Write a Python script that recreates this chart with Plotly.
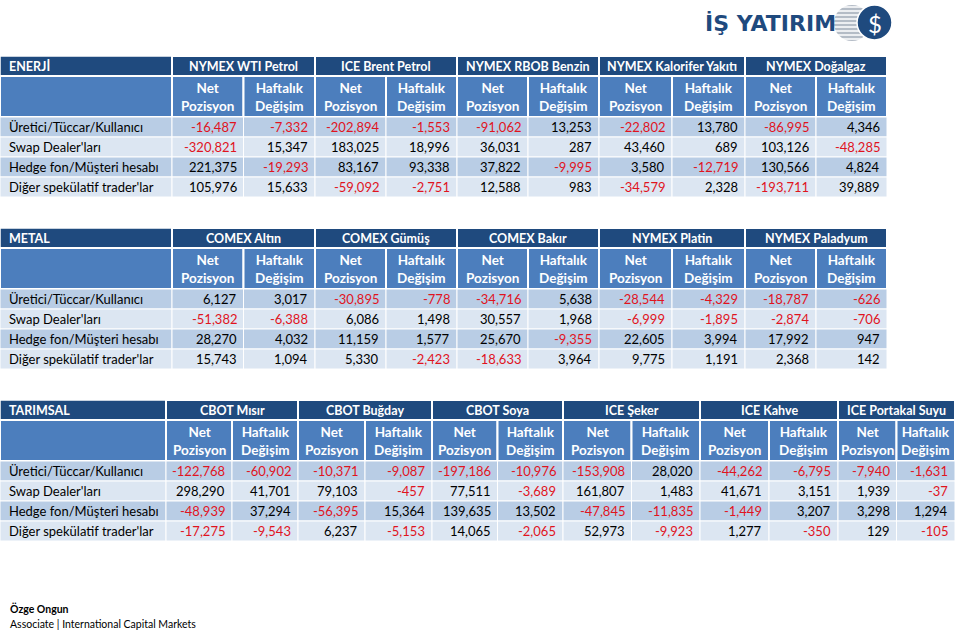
import plotly.graph_objects as go

# ---- data ----
katilimcilar = [
    "Üretici/Tüccar/Kullanıcı",
    "Swap Dealer'ları",
    "Hedge fon/Müşteri hesabı",
    "Diğer spekülatif trader'lar",
]
alt_basliklar = ["Net<br>Pozisyon", "Haftalık<br>Değişim"]

enerji_urunler = ["NYMEX WTI Petrol", "ICE Brent Petrol", "NYMEX RBOB Benzin",
                  "NYMEX Kalorifer Yakıtı", "NYMEX Doğalgaz"]
enerji_degerler = [
    [-16487, -7332, -202894, -1553, -91062, 13253, -22802, 13780, -86995, 4346],
    [-320821, 15347, 183025, 18996, 36031, 287, 43460, 689, 103126, -48285],
    [221375, -19293, 83167, 93338, 37822, -9995, 3580, -12719, 130566, 4824],
    [105976, 15633, -59092, -2751, 12588, 983, -34579, 2328, -193711, 39889],
]

metal_urunler = ["COMEX Altın", "COMEX Gümüş", "COMEX Bakır", "NYMEX Platin", "NYMEX Paladyum"]
metal_degerler = [
    [6127, 3017, -30895, -778, -34716, 5638, -28544, -4329, -18787, -626],
    [-51382, -6388, 6086, 1498, 30557, 1968, -6999, -1895, -2874, -706],
    [28270, 4032, 11159, 1577, 25670, -9355, 22605, 3994, 17992, 947],
    [15743, 1094, 5330, -2423, -18633, 3964, 9775, 1191, 2368, 142],
]

tarim_urunler = ["CBOT Mısır", "CBOT Buğday", "CBOT Soya", "ICE Şeker", "ICE Kahve", "ICE Portakal Suyu"]
tarim_degerler = [
    [-122768, -60902, -10371, -9087, -197186, -10976, -153908, 28020, -44262, -6795, -7940, -1631],
    [298290, 41701, 79103, -457, 77511, -3689, 161807, 1483, 41671, 3151, 1939, -37],
    [-48939, 37294, -56395, 15364, 139635, 13502, -47845, -11835, -1449, 3207, 3298, 1294],
    [-17275, -9543, 6237, -5153, 14065, -2065, 52973, -9923, 1277, -350, 129, -105],
]

# ---- style ----
W, H = 960, 634
LACIVERT = "#1F4A7E"
MAVI = "#4C7EBD"
BANT = ["#B9CDE5", "#DCE6F2"]
KIRMIZI = "#E0141E"
FONT = "Lato, Open Sans, sans-serif"
FS = 13

shapes = []
annots = []


def rect(x0, y0, x1, y1, fill, lw=1.5):
    shapes.append(dict(type="rect", x0=x0, y0=y0, x1=x1, y1=y1, fillcolor=fill,
                       line=dict(color="white", width=lw), layer="below"))


def text(x, y, s, anchor="center", color="black", bold=False, size=FS):
    if bold:
        s = f"<b>{s}</b>"
    annots.append(dict(x=x, y=y, text=s, showarrow=False, xanchor=anchor, yanchor="middle",
                       font=dict(family=FONT, size=size, color=color), align="center"))


def tablo(baslik, urunler, degerler, y0, etiket_w, genislikler):
    baslik_h, alt_h, satir_h = 20, 41, 20
    # title row
    rect(0, y0, etiket_w, y0 + baslik_h, LACIVERT)
    text(7, y0 + baslik_h / 2, baslik, "left", "white", True, 12.5)
    x = etiket_w
    kolonlar = []
    for ad, g in zip(urunler, genislikler):
        rect(x, y0, x + g, y0 + baslik_h, LACIVERT, 2)
        text(x + g / 2, y0 + baslik_h / 2, ad, "center", "white", True, 12.5)
        kolonlar += [(x, x + g / 2), (x + g / 2, x + g)]
        x += g
    # sub header
    y1 = y0 + baslik_h
    rect(0, y1, etiket_w, y1 + alt_h, MAVI, 2)
    for i, (a, b) in enumerate(kolonlar):
        rect(a, y1, b, y1 + alt_h, MAVI, 2)
        text((a + b) / 2, y1 + alt_h / 2, alt_basliklar[i % 2], "center", "white", True, 13.5)
    # data rows
    y = y1 + alt_h
    for r, (etiket, satir) in enumerate(zip(katilimcilar, degerler)):
        renk = BANT[r % 2]
        rect(0, y, etiket_w, y + satir_h, renk, 1)
        text(7, y + satir_h / 2, etiket, "left", "black", False, 13)
        for (a, b), v in zip(kolonlar, satir):
            rect(a, y, b, y + satir_h, renk, 1)
            text(b - 5, y + satir_h / 2, f"{v:,}", "right", KIRMIZI if v < 0 else "black")
        y += satir_h


tablo("ENERJİ", enerji_urunler, enerji_degerler, 56, 172, [143, 142, 142, 146, 142])
tablo("METAL", metal_urunler, metal_degerler, 228, 172, [143, 142, 142, 146, 142])
tablo("TARIMSAL", tarim_urunler, tarim_degerler, 400, 166, [132, 134, 131, 137, 138, 117])

# ---- logo ----
shapes.append(dict(type="circle", x0=834, y0=5, x1=870, y1=41, fillcolor="#B4BCC6",
                   line=dict(width=0)))
for yy in range(7, 41, 4):
    shapes.append(dict(type="line", x0=830, x1=875, y0=yy, y1=yy, line=dict(color="white", width=1.5)))
shapes.append(dict(type="circle", x0=857, y0=5, x1=892, y1=40, fillcolor="#1F4A7E",
                   line=dict(color="white", width=1.5)))
text(874.5, 23, "$", "center", "white", False, 24)
annots.append(dict(x=703, y=23, text="<b>İŞ YATIRIM</b>", showarrow=False, xanchor="left",
                   yanchor="middle", font=dict(family="DejaVu Sans", size=22, color="#1F4A7E")))

# ---- footer ----
text(8, 608, "Özge Ongun", "left", "black", True, 10.5)
text(8, 624, "Associate | International Capital Markets", "left", "black", False, 10.5)

fig = go.Figure()
fig.update_layout(
    width=W, height=H,
    margin=dict(l=0, r=0, t=0, b=0),
    paper_bgcolor="white", plot_bgcolor="white",
    xaxis=dict(range=[0, W], visible=False, fixedrange=True),
    yaxis=dict(range=[H, 0], visible=False, fixedrange=True),
    shapes=shapes, annotations=annots, showlegend=False,
)
# sayfa kenar boşluğunu kaldır
fig.write_html("out.html", config={"displayModeBar": False},
               post_script="document.body.style.margin='0px';")
